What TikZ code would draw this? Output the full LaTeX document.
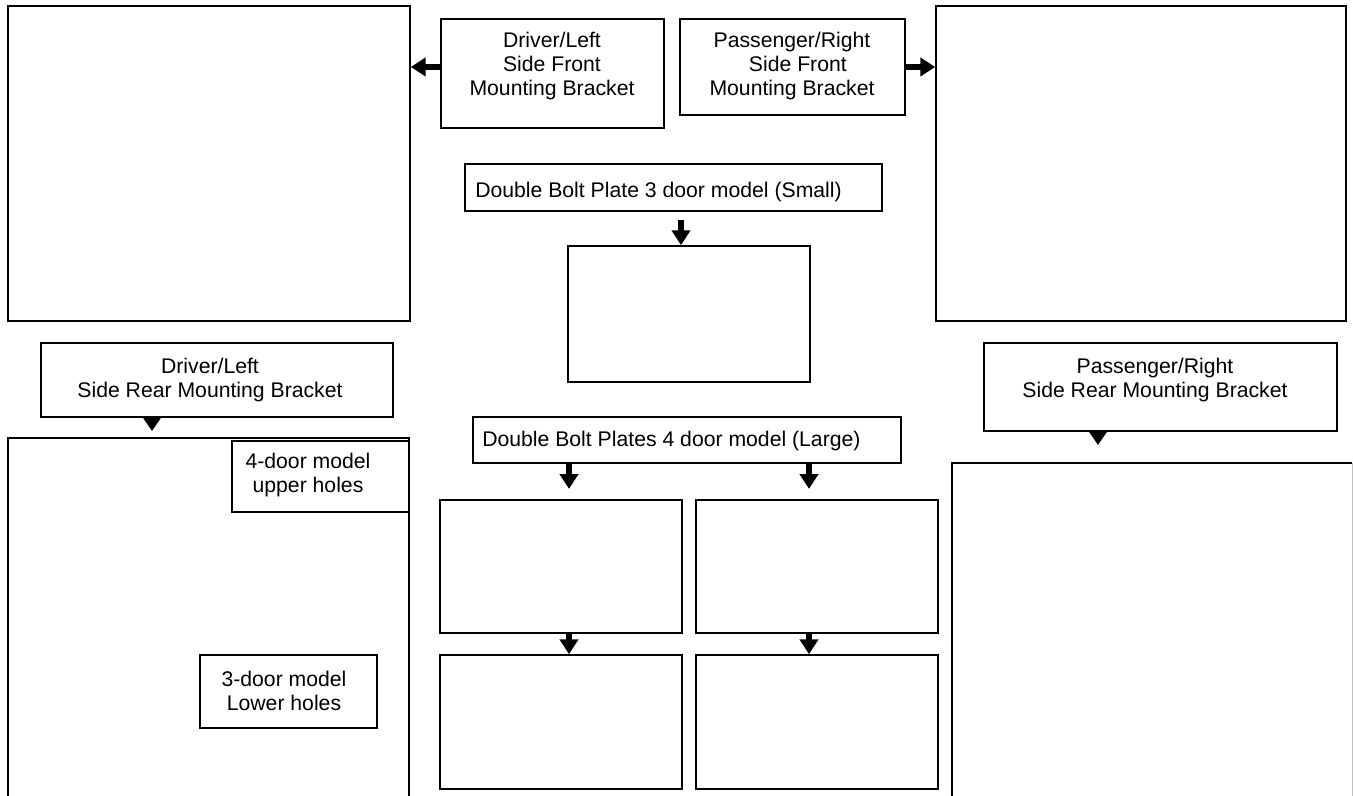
\documentclass[tikz,border=0pt]{standalone}
\usepackage{fontspec}
\setmainfont{Liberation Sans}
\usetikzlibrary{arrows.meta,fit}
\begin{document}
\begin{tikzpicture}[x=0.75pt,y=-0.75pt,
  box/.style={draw,line width=1.3pt,inner sep=0pt,fill=none},
  txt/.style={inner sep=0pt,align=center,font=\fontsize{15.9}{18.2}\selectfont},
  ltxt/.style={inner sep=0pt,anchor=west,font=\fontsize{15.9}{18.2}\selectfont},
  arr/.style={line width=4.5pt,-{Triangle[width=13.5pt,length=11pt]}},
  head/.style={fill=black}]
\useasboundingbox (0,0) rectangle (1353,796);
% big boxes
\node[box,fit={(8,6)(410,321)}] (tl) {};
\node[box,fit={(936,6)(1346,321)}] (tr) {};
\draw[line width=1.3pt] (8,800) -- (8,438) -- (409,438) -- (409,800);
\coordinate (blne) at (409,438);
\draw[line width=1.3pt] (952,800) -- (952,463) -- (1352,463);
\draw[line width=0.5pt,black!25] (1352,463) -- (1352,800);
\coordinate (brnw) at (952,463);
% front brackets
\node[box,fit={(441,19)(664,128)}] (df) {};
\node[txt] (dft) at (552,66) {Driver/Left\\Side Front\\Mounting Bracket};
\node[box,fit={(680,19)(905,115)}] (pf) {};
\node[txt] (pft) at (792,66) {Passenger/Right\\\ \ Side Front\\Mounting Bracket};
\draw[arr] (df.west |- pf.west) -- (tl.east |- pf.west);
\draw[arr] (pf.east) -- (tr.west |- pf.east);
% small plate
\node[box,fit={(465,164)(882,211)}] (sp) {};
\node[ltxt] (spt) at (475,192) {Double Bolt Plate 3 door model (Small)};
\node[box,fit={(568,246)(810,382)}] (sb) {};
\coordinate (a1) at (681,220);
\draw[arr] (a1) -- (a1 |- sb.north);
% rear brackets
\node[box,fit={(41,343)(393,417)}] (dr) {};
\node[txt] (drt) at (210,380) {Driver/Left\\Side Rear Mounting Bracket};
\coordinate (a2) at (152,0);
\fill[head] (dr.south -| a2) ++(-9,0) -- ++(18,0) -- ++(-9,13) -- cycle;
\node[box,fit={(984,343)(1337,431)}] (pr) {};
\node[txt] (prt) at (1155,380) {Passenger/Right\\Side Rear Mounting Bracket};
\coordinate (a3) at (1098,0);
\fill[head] (pr.south -| a3) ++(-9,0) -- ++(18,0) -- ++(-9,13) -- cycle;
% hole labels
\node[box,fit={(232,441)(409,512)}] (up) {};
\node[txt] (upt) at (308,475) {4-door model\\upper holes};
\node[box,fit={(200,655)(377,728)}] (lo) {};
\node[txt] (lot) at (284,691) {3-door model\\Lower holes};
% large plates
\node[box,fit={(473,417)(901,463)}] (lp) {};
\node[ltxt] (lpt) at (482,441) {Double Bolt Plates 4 door model (Large)};
\node[box,fit={(440,500)(682,633)}] (c1) {};
\node[box,fit={(696,500)(938,633)}] (c2) {};
\node[box,fit={(440,655)(682,789)}] (d1) {};
\node[box,fit={(696,655)(938,789)}] (d2) {};
\coordinate (xl) at (569,0);
\coordinate (xr) at (809,0);
\draw[arr] (lp.south -| xl) -- ++(0,25);
\draw[arr] (lp.south -| xr) -- ++(0,25);
\draw[arr] (c1.south -| xl) -- (d1.north -| xl);
\draw[arr] (c2.south -| xr) -- (d2.north -| xr);
\end{tikzpicture}
\end{document}
